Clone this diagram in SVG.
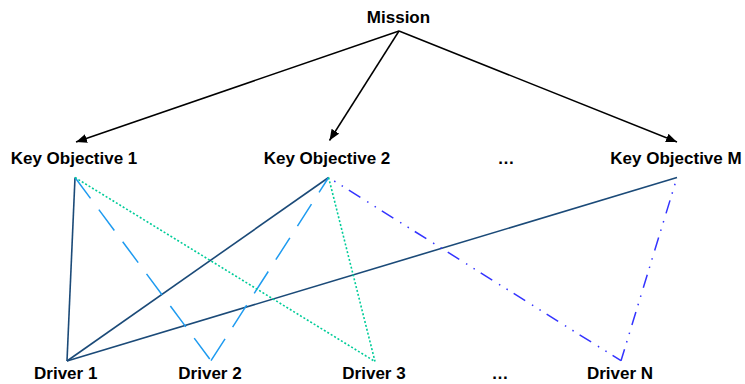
<svg xmlns="http://www.w3.org/2000/svg" width="745" height="384" viewBox="0 0 745 384">
<defs>
<marker id="ah" markerUnits="userSpaceOnUse" markerWidth="12" markerHeight="10" refX="11" refY="4.5" orient="auto">
<path d="M0,0 L11,4.5 L0,9 z" fill="#000"/>
</marker>
<style>
text{font-family:"Liberation Sans",Arial,sans-serif;font-weight:bold;font-size:17px;fill:#000;text-anchor:middle}
.arr{stroke:#000;stroke-width:1.5;fill:none;marker-end:url(#ah)}
.solid{stroke:#1B4A78;stroke-width:1.6;fill:none}
.ldash{stroke:#1E9BF0;stroke-width:1.5;fill:none;stroke-dasharray:26 14}
.dot{stroke:#00CC99;stroke-width:1.6;fill:none;stroke-dasharray:2 2}
.ddot{stroke:#3333FF;stroke-width:1.5;fill:none;stroke-dasharray:13.6 8 1.5 7.3 1.5 7;stroke-dashoffset:15}
</style>
</defs>
<g id="connectors">
<line class="arr" x1="399" y1="31" x2="76" y2="142"/>
<line class="arr" x1="399" y1="31" x2="329.5" y2="140.5"/>
<line class="arr" x1="399" y1="31" x2="677" y2="142"/>
<line class="solid" x1="75" y1="177.5" x2="67" y2="361"/>
<line class="solid" x1="328.6" y1="177.5" x2="67" y2="361"/>
<line class="solid" x1="677" y1="177.5" x2="67" y2="361"/>
<line class="ldash" x1="75" y1="177.5" x2="211" y2="360.7"/>
<line class="ldash" x1="211" y1="360.7" x2="328.6" y2="177.5"/>
<line class="dot" x1="75" y1="177.5" x2="375" y2="361.5"/>
<line class="dot" x1="328.6" y1="177.5" x2="375" y2="361.5"/>
<line class="ddot" x1="328.6" y1="177.5" x2="621" y2="360.7"/>
<line class="ddot" x1="677" y1="177.5" x2="621" y2="360.7"/>
</g>
<g id="mission"><text x="398.5" y="22.5">Mission</text></g>
<g id="ko1"><text x="74" y="164">Key Objective 1</text></g>
<g id="ko2"><text x="327" y="164">Key Objective 2</text></g>
<g id="ko-ellipsis"><text x="506" y="164">…</text></g>
<g id="kom"><text x="676" y="164">Key Objective M</text></g>
<g id="d1"><text x="65.7" y="379">Driver 1</text></g>
<g id="d2"><text x="210" y="379">Driver 2</text></g>
<g id="d3"><text x="374" y="379">Driver 3</text></g>
<g id="d-ellipsis"><text x="500" y="379">…</text></g>
<g id="dn"><text x="620" y="379">Driver N</text></g>
</svg>
